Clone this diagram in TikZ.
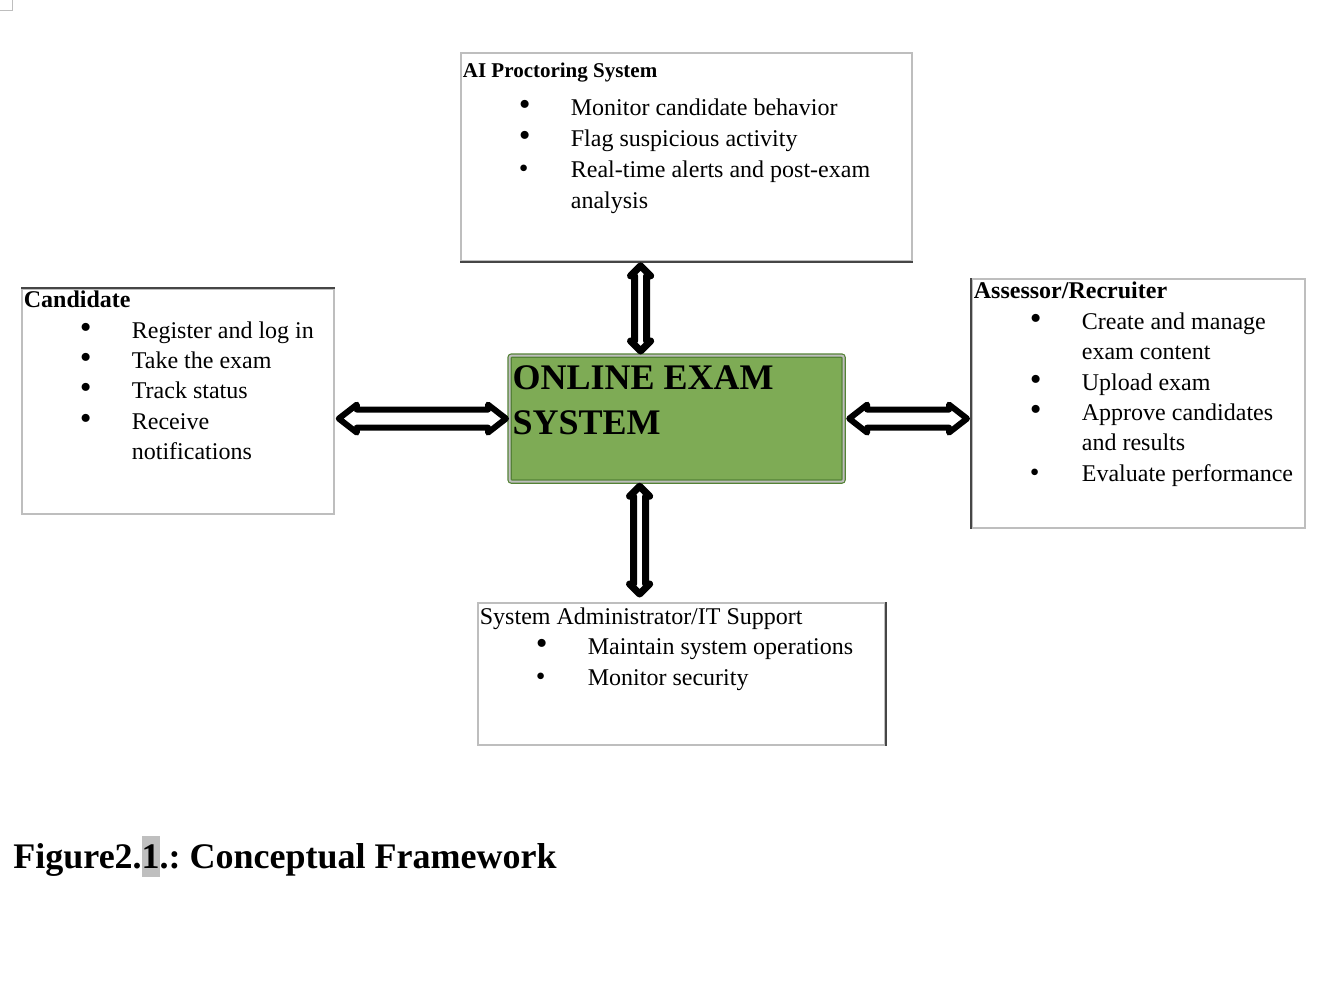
\documentclass[tikz,border=0pt]{standalone}
\usepackage{fontspec}
\setmainfont{Liberation Serif}
\usetikzlibrary{calc}

\definecolor{boxgray}{RGB}{190,190,190}
\definecolor{edgedark}{RGB}{70,70,70}
\definecolor{examgreen}{RGB}{126,171,85}
\definecolor{examborder}{RGB}{84,130,53}
\definecolor{hlgray}{RGB}{191,191,191}

\newcommand{\bigbul}{\scalebox{1.4}{\textbullet}}
\newcommand{\smbul}{\scalebox{1.15}{\textbullet}}
\newcommand{\itm}[2]{\par\hspace*{28pt}\makebox[26pt][l]{#1}#2}
\newcommand{\cont}[1]{\par\hspace*{54pt}#1}
\newcommand{\hlone}{{\setlength{\fboxsep}{0pt}\colorbox{hlgray}{\rule[-4.5pt]{0pt}{20.5pt}1}}}

\tikzset{
	rolebox/.style={draw=boxgray, line width=0.9pt, anchor=north west, inner xsep=1pt, inner ysep=0pt, font=\fontsize{12}{15.2}\selectfont},
	examnode/.style={draw=examborder, line width=0.6pt, double=boxgray, double distance=1pt, fill=examgreen, rounded corners=1pt, anchor=north west, inner xsep=1.5pt, inner ysep=0pt, font=\fontsize{18}{22.5}\selectfont\bfseries},
	edgeline/.style={draw=edgedark, line width=0.9pt},
	dblarrow/.style n args={3}{draw=black, fill=white, line join=round,
		to path={(\tikztostart)
			-- ($(\tikztostart)!#3!(\tikztotarget)!#2!90:(\tikztotarget)$)
			-- ($(\tikztostart)!#3!(\tikztotarget)!#1!90:(\tikztotarget)$)
			-- ($(\tikztotarget)!#3!(\tikztostart)!#1!-90:(\tikztostart)$)
			-- ($(\tikztotarget)!#3!(\tikztostart)!#2!-90:(\tikztostart)$)
			-- (\tikztotarget)
			-- ($(\tikztotarget)!#3!(\tikztostart)!#2!90:(\tikztostart)$)
			-- ($(\tikztotarget)!#3!(\tikztostart)!#1!90:(\tikztostart)$)
			-- ($(\tikztostart)!#3!(\tikztotarget)!#1!-90:(\tikztotarget)$)
			-- ($(\tikztostart)!#3!(\tikztotarget)!#2!-90:(\tikztotarget)$)
			-- cycle}},
	harrow/.style={dblarrow={4.5pt}{7pt}{9pt}, line width=3pt},
	varrow/.style={dblarrow={3pt}{5pt}{5pt}, line width=3.5pt}
}

\begin{document}
\begin{tikzpicture}[x=0.5pt, y=-0.5pt]
	\path[use as bounding box, fill=white] (0,0) rectangle (1324,982);
	\draw[boxgray, line width=0.5pt] (12,0) -- (12,10) -- (0,10);

	\node[rolebox] (ai) at (460,52) {\parbox[c][104pt][t]{223.5pt}{\raggedright
		\rule{0pt}{12.4pt}{\fontsize{10.5}{12}\selectfont\bfseries AI Proctoring System}\par\vspace{3.8pt}
		\itm{\bigbul}{Monitor candidate behavior}
		\itm{\bigbul}{Flag suspicious activity}\par\vspace{0.6pt}
		\itm{\smbul}{Real-time alerts and post-exam}
		\cont{analysis}}};
	\node[rolebox] (cand) at (21,288) {\parbox[c][112.5pt][t]{154pt}{\raggedright
		\rule{0pt}{9.4pt}\textbf{Candidate}\par
		\itm{\bigbul}{Register and log in}
		\itm{\bigbul}{Take the exam}
		\itm{\bigbul}{Track status}
		\itm{\bigbul}{Receive}
		\cont{notifications}}};
	\node[rolebox] (assess) at (971,278) {\parbox[c][124.5pt][t]{164.5pt}{\raggedright
		\rule{0pt}{10pt}\textbf{Assessor/Recruiter}\par
		\itm{\bigbul}{Create and manage}
		\cont{exam content}
		\itm{\bigbul}{Upload exam}
		\itm{\bigbul}{Approve candidates}
		\cont{and results}
		\itm{\smbul}{Evaluate performance}}};
	\node[rolebox] (sysad) at (477,602) {\parbox[c][71pt][t]{201.5pt}{\raggedright
		\rule{0pt}{10.7pt}System Administrator/IT Support\par
		\itm{\bigbul}{Maintain system operations}
		\itm{\smbul}{Monitor security}}};

	\node[examnode] (ones) at (509,355) {\parbox[c][63pt][t]{164pt}{\raggedright
		\rule{0pt}{16.7pt}ONLINE EXAM\par SYSTEM}};

%	darker sides of the boxes
	\draw[edgeline] (ai.south west) -- (ai.south east);
	\draw[edgeline] (cand.north west) -- (cand.north east);
	\draw[edgeline] (assess.north west) -- (assess.south west);
	\draw[edgeline] (sysad.north east) -- (sysad.south east);

	\coordinate (lfA) at ($(cand.east |- ones.west)+(4,0)$);
	\coordinate (lfB) at ($(ones.west)+(-3,0)$);
	\coordinate (rtA) at ($(ones.east)+(5,0)$);
	\coordinate (rtB) at ($(assess.west |- ones.east)+(-4,0)$);
	\coordinate (upA) at ($(ones.north |- ai.south)+(-36,4)$);
	\coordinate (upB) at ($(ones.north)+(-36,-4)$);
	\coordinate (dnA) at ($(ones.south)+(-37,4)$);
	\coordinate (dnB) at ($(ones.south |- sysad.north)+(-37,-8)$);

	\draw[harrow] (lfA) to (lfB);
	\draw[harrow] (rtA) to (rtB);
	\draw[varrow] (upA) to (upB);
	\draw[varrow] (dnA) to (dnB);

	\node[anchor=base west, inner sep=0pt, font=\fontsize{18}{22}\selectfont\bfseries] (cap) at (13,868) {Figure2.\hlone.:\ Conceptual Framework};
\end{tikzpicture}
\end{document}
